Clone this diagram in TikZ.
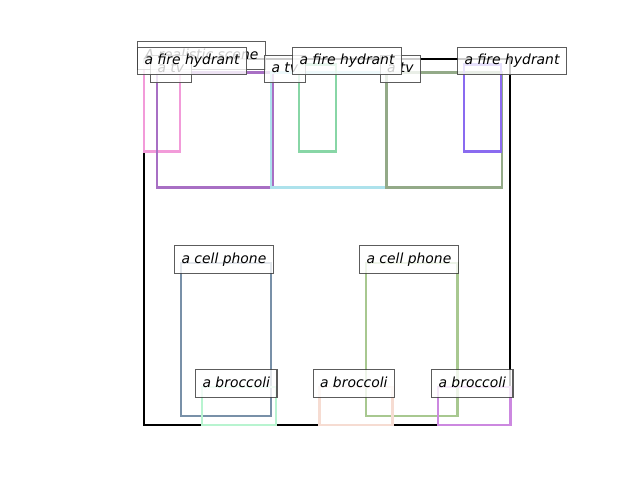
\documentclass[tikz,border=0pt]{standalone}
\usepackage{fontspec}
\setmainfont{DejaVu Sans}
\definecolor{cpink}{HTML}{F29BD9}
\definecolor{cpurple}{HTML}{A86FC4}
\definecolor{ccyan}{HTML}{ADE2EC}
\definecolor{cgreen}{HTML}{88D6A6}
\definecolor{cgg}{HTML}{93AA88}
\definecolor{cviolet}{HTML}{8A6BF0}
\definecolor{csteel}{HTML}{7890A8}
\definecolor{colive}{HTML}{A8C890}
\definecolor{cmint}{HTML}{B8F4D0}
\definecolor{cpeach}{HTML}{F6DCD2}
\definecolor{corchid}{HTML}{CC88E0}
\tikzset{
  bbox/.style={line width=2.5pt},
  lbl/.style={anchor=north west, draw=black!75, line width=1.1pt, fill=white,
    fill opacity=0.8, draw opacity=0.85, text opacity=1,
    font=\fontsize{13.9}{16}\selectfont\itshape,
    text height=10.6pt, text depth=3.2pt, inner xsep=7pt, inner ysep=7pt}
}
\begin{document}
\begin{tikzpicture}[x=1pt,y=-1pt]
\useasboundingbox (0,0) rectangle (640,480);
% frame
\draw[line width=2.2pt, black] (144,59) rectangle (510,425);
% boxes
\draw[bbox, cpink] (144,64.5) rectangle (180,151.5);
\draw[bbox, cpurple] (157,72.5) rectangle (272.5,187.5);
\draw[bbox, ccyan] (271,72.5) rectangle (387,187.5);
\draw[bbox, cgreen] (299,64.5) rectangle (336,151.5);
\draw[bbox, cgg] (386.5,72.5) rectangle (502,187.5);
\draw[bbox, cviolet] (464,64.5) rectangle (501,151.5);
\draw[bbox, csteel] (181,263) rectangle (271,416);
\draw[bbox, colive] (366,263) rectangle (457.5,416);
\draw[bbox, cmint] (202,387) rectangle (276,425);
\draw[bbox, cpeach] (319.5,387) rectangle (392.5,425);
\draw[bbox, corchid] (438,387) rectangle (510.5,425);
% labels
\node[lbl] (title) at (137,41) {A realistic scene};
\node[lbl] (tv1) at (150,54.5) {a tv};
\node[lbl] (tv2) at (264,54.5) {a tv};
\node[lbl] (tv3) at (379.5,54.5) {a tv};
\node[lbl] (fh1) at (137,46.5) {a fire hydrant};
\node[lbl] (fh2) at (292,46.5) {a fire hydrant};
\node[lbl] (fh3) at (457,46.5) {a fire hydrant};
\node[lbl] (cp1) at (174,245) {a cell phone};
\node[lbl] (cp2) at (359,245) {a cell phone};
\node[lbl] (br1) at (195,369) {a broccoli};
\node[lbl] (br2) at (312.5,369) {a broccoli};
\node[lbl] (br3) at (431,369) {a broccoli};
\end{tikzpicture}
\end{document}
